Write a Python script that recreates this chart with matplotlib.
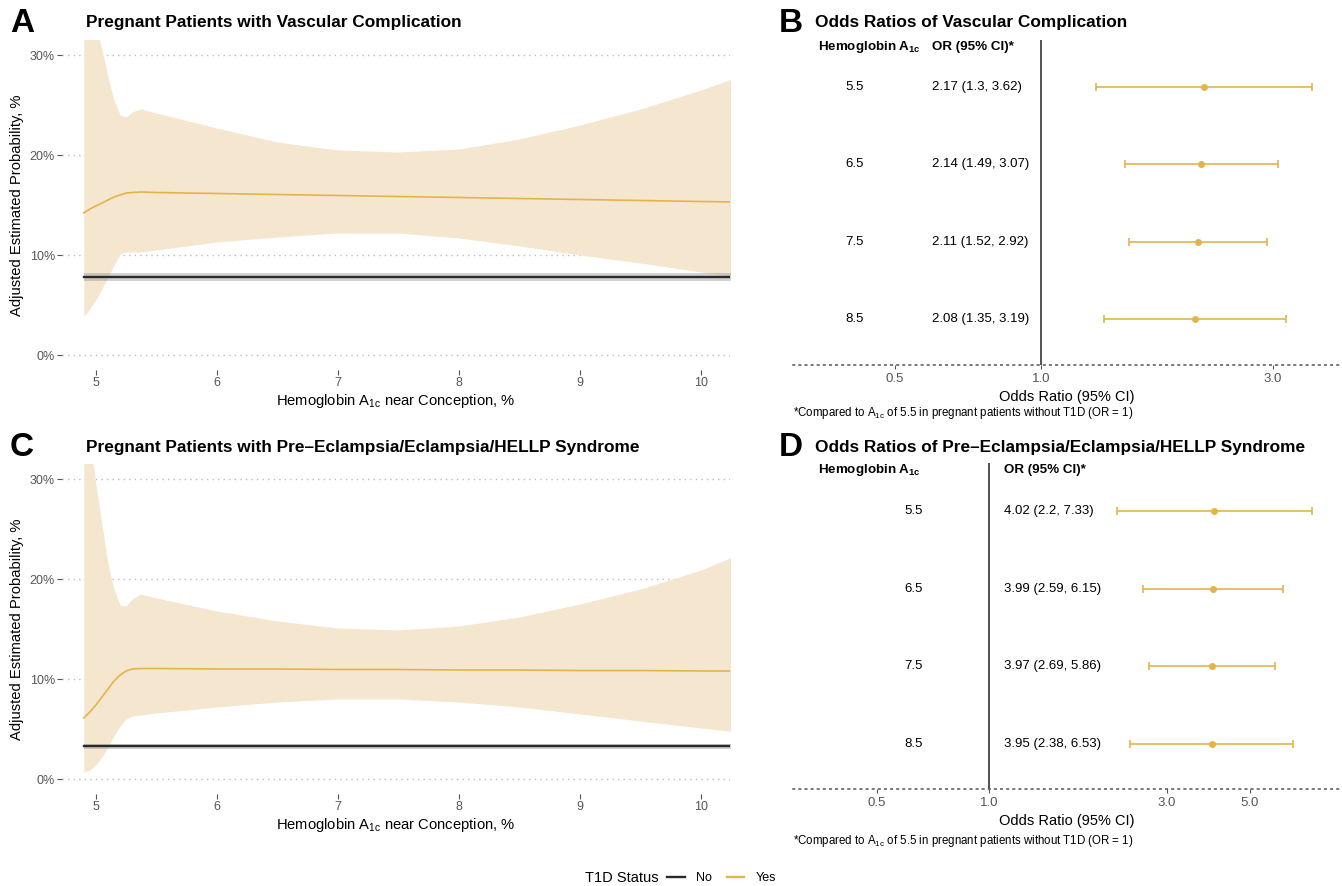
import numpy as np
import matplotlib
matplotlib.use("Agg")
import matplotlib.pyplot as plt
from matplotlib.lines import Line2D

plt.rcParams['font.family'] = ['Liberation Sans', 'DejaVu Sans']
plt.rcParams['mathtext.fontset'] = 'custom'
plt.rcParams['mathtext.rm'] = 'Liberation Sans'
plt.rcParams['mathtext.bf'] = 'Liberation Sans:bold'

# ---- data ----
hba1c = [4.9, 4.95, 5.0, 5.05, 5.1, 5.15, 5.2, 5.25, 5.3, 5.37, 5.5,
         6.0, 6.5, 7.0, 7.5, 8.0, 8.5, 9.0, 9.5, 10.0, 10.3]

# panel A: vascular complication, T1D = Yes (%)
yes_a = [14.2, 14.6, 14.9, 15.2, 15.5, 15.8, 16.0, 16.2, 16.25, 16.3, 16.25,
         16.15, 16.05, 15.95, 15.85, 15.75, 15.65, 15.55, 15.45, 15.35, 15.3]
upper_a = [40, 36, 33, 30.5, 27.8, 25.5, 24.0, 23.8, 24.3, 24.6, 24.2,
           22.7, 21.3, 20.5, 20.3, 20.6, 21.6, 23.0, 24.6, 26.5, 27.8]
lower_a = [3.9, 4.6, 5.5, 6.6, 7.8, 9.0, 10.1, 10.3, 10.3, 10.3, 10.5,
           11.3, 11.8, 12.2, 12.2, 11.7, 10.9, 10.0, 9.2, 8.3, 7.8]
no_a, no_a_lo, no_a_hi = 7.8, 7.4, 8.2

# panel C: pre-eclampsia/eclampsia/HELLP, T1D = Yes (%)
yes_c = [6.1, 6.7, 7.4, 8.2, 9.0, 9.8, 10.4, 10.8, 11.0, 11.05, 11.05,
         11.0, 11.0, 10.95, 10.95, 10.9, 10.9, 10.85, 10.85, 10.8, 10.8]
upper_c = [40, 34, 29.5, 25.5, 21.5, 19.0, 17.4, 17.3, 18.0, 18.5, 18.1,
           16.8, 15.8, 15.1, 14.9, 15.3, 16.2, 17.5, 19.0, 20.9, 22.4]
lower_c = [0.7, 0.9, 1.4, 2.2, 3.2, 4.3, 5.3, 6.0, 6.3, 6.4, 6.6,
           7.2, 7.7, 8.0, 8.0, 7.7, 7.2, 6.5, 5.8, 5.1, 4.7]
no_c, no_c_lo, no_c_hi = 3.3, 3.05, 3.55

# odds ratios
or_levels = ['5.5', '6.5', '7.5', '8.5']
or_b = [2.17, 2.14, 2.11, 2.08]
lo_b = [1.3, 1.49, 1.52, 1.35]
hi_b = [3.62, 3.07, 2.92, 3.19]
or_d = [4.02, 3.99, 3.97, 3.95]
lo_d = [2.2, 2.59, 2.69, 2.38]
hi_d = [7.33, 6.15, 5.86, 6.53]

y_ticks = [0, 10, 20, 30]
x_ticks = [5, 6, 7, 8, 9, 10]

GOLD = '#E5B34B'
FILL = '#F5E6D0'
GRAY_TXT = '#555555'

W, H = 1342, 886
fig = plt.figure(figsize=(W / 100, H / 100), dpi=100)


def px_axes(l, t, r, b):
    return fig.add_axes([l / W, 1 - b / H, (r - l) / W, (b - t) / H])


def ftext(x, y, s, **kw):
    fig.text(x / W, 1 - y / H, s, **kw)


def prob_panel(ax, yes, lo, hi, no, no_lo, no_hi):
    ax.fill_between(hba1c, lo, hi, color=FILL, lw=0, zorder=1)
    ax.fill_between([hba1c[0], hba1c[-1]], [no_lo] * 2, [no_hi] * 2,
                    color='#9a9a9a', alpha=0.45, lw=0, zorder=2)
    ax.plot([hba1c[0], hba1c[-1]], [no, no], color='#2a2a2a', lw=1.7, zorder=3)
    ax.plot(hba1c, yes, color=GOLD, lw=1.2, zorder=4)
    ax.set_xlim(4.72, 10.24)
    ax.set_ylim(-1.5, 31.5)
    ax.set_yticks(y_ticks)
    ax.set_yticklabels([f'{v}%' for v in y_ticks])
    ax.set_xticks(x_ticks)
    ax.grid(axis='y', color='#bdbdbd', linestyle=(0, (1, 3)), lw=1, zorder=0)
    ax.set_axisbelow(True)
    for s in ax.spines.values():
        s.set_visible(False)
    ax.tick_params(axis='both', colors=GRAY_TXT, labelsize=9, length=3.5,
                   width=0.8, pad=1.5)
    ax.set_xlabel('Hemoglobin A$_{\\mathrm{1c}}$ near Conception, %',
                  fontsize=10.6, labelpad=2)
    ax.set_ylabel('Adjusted Estimated Probability, %', fontsize=10.6, labelpad=4)


def forest_panel(ax, est, lo, hi, xlim, ylim, xticks, col1, col2):
    rows = np.arange(len(est))
    est = np.array(est)
    err = [est - np.array(lo), np.array(hi) - est]
    ax.errorbar(est, rows, xerr=err, fmt='o', color=GOLD, ms=4, lw=1.2,
                capsize=3, capthick=1.2, zorder=3)
    ax.axvline(1.0, color='#222222', lw=1.1, zorder=2)
    ax.set_xscale('log')
    ax.set_xlim(*xlim)
    ax.set_ylim(*ylim)
    ax.set_yticks([])
    ax.set_xticks(xticks)
    ax.set_xticklabels([f'{v:.1f}' for v in xticks])
    ax.minorticks_off()
    for k in ['top', 'left', 'right']:
        ax.spines[k].set_visible(False)
    ax.spines['bottom'].set_linestyle((0, (1, 3)))
    ax.spines['bottom'].set_color('#555555')
    ax.spines['bottom'].set_linewidth(1.1)
    ax.tick_params(axis='x', colors=GRAY_TXT, labelsize=9.5, length=3,
                   width=0.8, pad=3)
    ax.set_xlabel('Odds Ratio (95% CI)', fontsize=10.5, labelpad=3)
    trans = ax.get_yaxis_transform()
    head_y = ylim[1] + 0.09
    ax.text(0.046, head_y, 'Hemoglobin A$_{\\mathbf{1c}}$', transform=trans,
            fontsize=9.6, fontweight='bold', ha='left', va='center')
    ax.text(col2, head_y, 'OR (95% CI)*', transform=trans, fontsize=9.6,
            fontweight='bold', ha='left', va='center')
    for r, lev, e, l, h in zip(rows, or_levels, est, lo, hi):
        ax.text(col1, r, lev, transform=trans, fontsize=9.5, ha='center',
                va='center')
        ax.text(col2, r, f'{e} ({l}, {h})', transform=trans, fontsize=9.5,
                ha='left', va='center')


# panel A
axA = px_axes(62, 40, 730, 370)
prob_panel(axA, yes_a, lower_a, upper_a, no_a, no_a_lo, no_a_hi)
ftext(10, 24, 'A', fontsize=24, fontweight='bold', va='center')
ftext(86, 23, 'Pregnant Patients with Vascular Complication', fontsize=12.4,
      fontweight='bold', va='center')

# panel C
axC = px_axes(62, 464, 730, 794)
prob_panel(axC, yes_c, lower_c, upper_c, no_c, no_c_lo, no_c_hi)
ftext(10, 448, 'C', fontsize=24, fontweight='bold', va='center')
ftext(86, 447, 'Pregnant Patients with Pre\u2013Eclampsia/Eclampsia/HELLP Syndrome',
      fontsize=12.4, fontweight='bold', va='center')

# panel B
axB = px_axes(793, 40, 1340, 365)
forest_panel(axB, or_b, lo_b, hi_b, (0.308, 4.13), (3.596, -0.608),
             [0.5, 1.0, 3.0], 0.113, 0.254)
ftext(779, 24, 'B', fontsize=24, fontweight='bold', va='center')
ftext(815, 23, 'Odds Ratios of Vascular Complication', fontsize=12.4,
      fontweight='bold', va='center')
ftext(793, 413, '*Compared to A$_{\\mathrm{1c}}$ of 5.5 in pregnant patients without T1D (OR = 1)',
      fontsize=8.3, va='center')

# panel D
axD = px_axes(793, 463, 1340, 789)
forest_panel(axD, or_d, lo_d, hi_d, (0.298, 8.73), (3.578, -0.618),
             [0.5, 1.0, 3.0, 5.0], 0.221, 0.386)
ftext(779, 448, 'D', fontsize=24, fontweight='bold', va='center')
ftext(815, 447, 'Odds Ratios of Pre\u2013Eclampsia/Eclampsia/HELLP Syndrome',
      fontsize=12.4, fontweight='bold', va='center')
ftext(793, 841, '*Compared to A$_{\\mathrm{1c}}$ of 5.5 in pregnant patients without T1D (OR = 1)',
      fontsize=8.3, va='center')

# legend
ftext(585, 878, 'T1D Status', fontsize=10.5, va='center')
handles = [Line2D([], [], color='#2a2a2a', lw=1.7),
           Line2D([], [], color=GOLD, lw=1.7)]
fig.legend(handles, ['No', 'Yes'], loc='center left',
           bbox_to_anchor=(667 / W, 1 - 878 / H), ncol=2, frameon=False,
           fontsize=9, handlelength=1.4, handletextpad=0.9,
           columnspacing=1.2, borderaxespad=0, borderpad=0)

fig.savefig('out.png', dpi=100)
